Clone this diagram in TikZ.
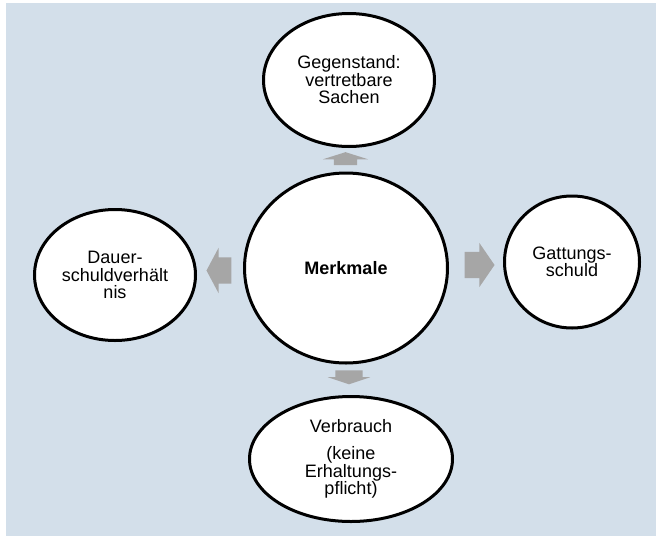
\documentclass[tikz,border=0pt]{standalone}
\usepackage{fontspec}
\setmainfont{Liberation Sans}
\usetikzlibrary{shapes.geometric,shapes.arrows}
\definecolor{bgblue}{RGB}{211,223,234}
\definecolor{arrowgray}{RGB}{166,166,166}
\tikzset{
  bubble/.style={ellipse, draw=black, line width=3pt, fill=white, inner sep=0pt,
    align=center, font=\fontsize{18}{17.5}\selectfont},
  blockarrow/.style={single arrow, fill=arrowgray, draw=none, inner xsep=0pt,
    outer sep=0pt}
}
\begin{document}
\begin{tikzpicture}[x=1pt,y=-1pt]
            \useasboundingbox (0,0) rectangle (656,536);
            % Background
            \fill[bgblue] (6,3) rectangle (656,536);

            % Bubbles
            \node[bubble, minimum width=203pt, minimum height=190pt] (merkmale) at (346,268) {\textbf{Merkmale}};
            \node[bubble, minimum width=171pt, minimum height=133pt] (gegenstand) at (349,80) {Gegenstand:\\vertretbare\\Sachen};
            \node[bubble, minimum width=135pt, minimum height=132pt] (gattung) at (572,262) {Gattungs-\\schuld};
            \node[bubble, minimum width=161pt, minimum height=131pt] (dauer) at (115,275) {Dauer-\\schuldverhält\\nis};
            \node[bubble, minimum width=203pt, minimum height=125pt] (verbrauch) at (351,459) {Verbrauch\\[10pt](keine\\Erhaltungs-\\pflicht)};

            % Block arrows
            \node[blockarrow, rotate=90, inner ysep=11.5pt, single arrow head extend=11pt,
              single arrow tip angle=145, minimum height=13pt] (upArr) at (345.5,160.5) {};
            \node[blockarrow, rotate=-90, inner ysep=13.5pt, single arrow head extend=7.5pt,
              single arrow tip angle=143, minimum height=14pt] (downArr) at (349,375) {};
            \node[blockarrow, rotate=180, inner ysep=13pt, single arrow head extend=9.5pt,
              single arrow tip angle=124, minimum height=25pt] (leftArr) at (222.5,270.5) {};
            \node[blockarrow, inner ysep=13pt, single arrow head extend=9pt,
              single arrow tip angle=111, minimum height=30pt] (rightArr) at (475,265) {};
\end{tikzpicture}
\end{document}
